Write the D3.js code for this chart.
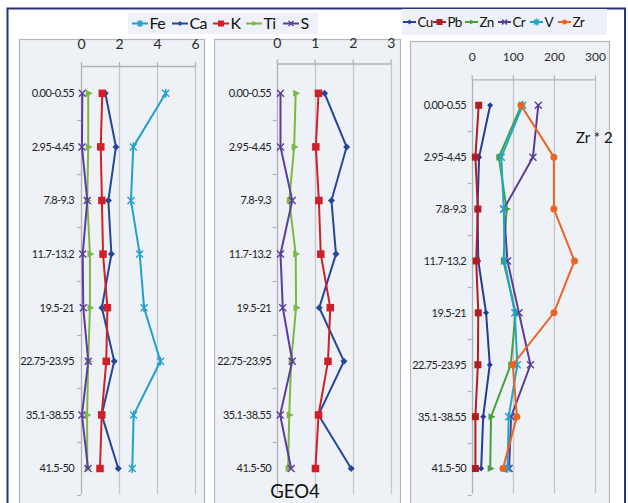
<!DOCTYPE html>
<html><head><meta charset="utf-8">
<script src="https://cdn.jsdelivr.net/npm/d3@7"></script>
<style>html,body{margin:0;padding:0;background:#fff;}svg{display:block;font-family:Lato,"Noto Sans",sans-serif;}</style>
</head><body><svg id="c" width="628" height="503"></svg>
<script>
const categories = ["0.00-0.55","2.95-4.45","7.8-9.3","11.7-13.2","19.5-21","22.75-23.95","35.1-38.55","41.5-50"];
// Panel 1
const ticks1 = [0,2,4,6];
const fe1 = [4.46, 2.75, 2.63, 3.09, 3.32, 4.18, 2.77, 2.70];
const ca1 = [1.28, 1.84, 1.44, 1.60, 1.10, 1.75, 1.09, 1.96];
const k1  = [1.12, 1.04, 1.10, 1.16, 1.39, 1.33, 1.09, 1.00];
const ti1 = [0.38, 0.38, 0.33, 0.47, 0.47, 0.38, 0.32, 0.33];
const s1  = [0.07, 0.05, 0.33, 0.09, 0.12, 0.38, 0.05, 0.37];
// Panel 2
const ticks2 = [0,1,2,3];
const ca2 = [1.26, 1.84, 1.44, 1.56, 1.12, 1.77, 1.10, 1.96];
const k2  = [1.10, 1.03, 1.11, 1.16, 1.41, 1.35, 1.10, 1.02];
const ti2 = [0.50, 0.46, 0.33, 0.50, 0.51, 0.38, 0.33, 0.30];
const s2  = [0.10, 0.10, 0.41, 0.10, 0.16, 0.41, 0.09, 0.38];
// Panel 3
const ticks3 = [0,100,200,300];
const cu3 = [45, 18, 14, 16, 35, 44, 28, 23];
const pb3 = [17, 9, 15, 11, 16, 15, 9, 9];
const zn3 = [121, 66, 85, 77, 107, 95, 47, 45];
const cr3 = [162, 149, 78, 87, 115, 143, 96, 91];
const v3  = [124, 72, 78, 80, 105, 111, 90, 87];
const zr3 = [120, 200, 200, 250, 200, 100, 110, 76];
const legend1 = ["Fe","Ca","K","Ti","S"];
const legend2 = ["Cu","Pb","Zn","Cr","V","Zr"];

const style = {
  Fe:{c:"#22a0cc",m:"ast"}, Ca:{c:"#24479a",m:"diamond"}, K:{c:"#d01f26",m:"square"},
  Ti:{c:"#7bb843",m:"tri"}, S:{c:"#5c3c9c",m:"x"},
  Cu:{c:"#243c98",m:"diamond"}, Pb:{c:"#b01e22",m:"square"}, Zn:{c:"#46a03c",m:"tri"},
  Cr:{c:"#5a3b96",m:"x"}, V:{c:"#22a6c8",m:"ast"}, Zr:{c:"#ec6422",m:"circle"}
};

const svg = d3.select("#c");

function marker(g, type, color, x, y, s) {
  const h = s/2;
  if (type === "square") g.append("rect").attr("x",x-h).attr("y",y-h).attr("width",s).attr("height",s).attr("fill",color);
  else if (type === "diamond") g.append("path").attr("d",`M${x},${y-h}L${x+h},${y}L${x},${y+h}L${x-h},${y}Z`).attr("fill",color);
  else if (type === "tri") g.append("path").attr("d",`M${x-h+1},${y-h}L${x+h+1},${y}L${x-h+1},${y+h}Z`).attr("fill",color);
  else if (type === "circle") g.append("circle").attr("cx",x).attr("cy",y).attr("r",h).attr("fill",color);
  else if (type === "x") g.append("path").attr("d",`M${x-h},${y-h}L${x+h},${y+h}M${x-h},${y+h}L${x+h},${y-h}`).attr("stroke",color).attr("stroke-width",1.4).attr("fill","none");
  else if (type === "ast") g.append("path").attr("d",`M${x-h},${y-h}L${x+h},${y+h}M${x-h},${y+h}L${x+h},${y-h}M${x},${y-h-1}L${x},${y+h+1}`).attr("stroke",color).attr("stroke-width",1.4).attr("fill","none");
}

svg.append("rect").attr("x",7.5).attr("y",8.5).attr("width",617.5).attr("height",520)
  .attr("fill","#fff").attr("stroke","#2a3579").attr("stroke-width",2);

function panel(opt) {
  const g = svg.append("g");
  g.append("rect").attr("x",opt.fx0+0.5).attr("y",opt.fy0+0.5).attr("width",opt.fx1-opt.fx0).attr("height",520)
    .attr("fill","#eef2f7").attr("stroke","#b4b7bd").attr("stroke-width",1.2);
  const x = d3.scaleLinear().domain([opt.ticks[0], opt.ticks[opt.ticks.length-1]]).range([opt.x0, opt.x1]);
  const y = d3.scaleBand().domain(categories).range([opt.yTop, opt.yBot]).paddingInner(0).paddingOuter(0);
  const bw = y.bandwidth();
  const cy = c => y(c) + bw/2;
  g.selectAll(".grid").data(opt.ticks).join("line")
    .attr("x1",d=>Math.round(x(d))+0.5).attr("x2",d=>Math.round(x(d))+0.5)
    .attr("y1",opt.axisY).attr("y2",opt.yBot-1)
    .attr("stroke",d=>d===0?"#aeb1b6":"#c4c6ca").attr("stroke-width",1.3);
  const bounds = categories.map(c=>y(c)).concat([opt.yBot]);
  g.selectAll(".lt").data(bounds.slice(1)).join("line")
    .attr("x1",x(0)-4).attr("x2",x(0)).attr("y1",d=>Math.round(d)+0.5).attr("y2",d=>Math.round(d)+0.5)
    .attr("stroke","#aeb1b6").attr("stroke-width",1.2);
  const ax = g.append("g").attr("transform",`translate(0,${opt.axisY})`)
    .call(d3.axisTop(x).tickValues(opt.ticks).tickFormat(d3.format("d")).tickSize(4).tickSizeOuter(0).tickPadding(opt.tickPad));
  ax.select(".domain").attr("stroke","#aeb1b6").attr("stroke-width",1.3);
  ax.selectAll(".tick line").attr("stroke","#aeb1b6").attr("stroke-width",1.2);
  ax.selectAll(".tick text").attr("fill","#2a2a2a").style("font-size",opt.tickFont+"px").style("font-family","Lato, sans-serif");
  g.selectAll(".rl").data(categories).join("text")
    .attr("x",opt.labelX).attr("y",d=>cy(d)).attr("dy","0.35em").attr("text-anchor","end")
    .attr("fill","#222").style("font-size","11px").style("letter-spacing","-0.6px").text(d=>d);
  opt.series.forEach(([name, vals]) => {
    const st = style[name];
    const pts = vals.map((v,i)=>[x(v), cy(categories[i])]);
    g.append("path").attr("d",d3.line()(pts)).attr("fill","none").attr("stroke",st.c).attr("stroke-width",2);
    pts.forEach(p=>marker(g, st.m, st.c, p[0], p[1], opt.msize[name]||7));
  });
  return {g,x,y};
}

panel({fx0:19, fx1:204, fy0:39, x0:81, x1:195, yTop:66.5, yBot:495.3, axisY:66, ticks:ticks1, tickPad:13, tickFont:14, labelX:74,
  series:[["Fe",fe1],["Ca",ca1],["K",k1],["Ti",ti1],["S",s1]], msize:{Fe:7,Ca:7,K:7.5,Ti:7,S:7}});
panel({fx0:214, fx1:400, fy0:39, x0:276.7, x1:390.7, yTop:66.5, yBot:495.3, axisY:63.5, ticks:ticks2, tickPad:12, tickFont:14, labelX:271,
  series:[["Ca",ca2],["K",k2],["Ti",ti2],["S",s2]], msize:{Ca:7,K:7.5,Ti:7,S:7}});
panel({fx0:410, fx1:609, fy0:41, x0:471.7, x1:595, yTop:79.3, yBot:494.5, axisY:79.3, ticks:ticks3, tickPad:14, tickFont:12, labelX:466,
  series:[["Cu",cu3],["Pb",pb3],["Zn",zn3],["Cr",cr3],["V",v3],["Zr",zr3]], msize:{Cu:6,Pb:7,Zn:7,Cr:7,V:7,Zr:7}});

svg.append("text").attr("x",576).attr("y",143).attr("fill","#111").style("font-size","15px").text("Zr * 2");
svg.append("text").attr("x",295).attr("y",498).attr("text-anchor","middle").attr("fill","#111").style("font-size","18.5px").text("GEO4");

function legend(items, starts, bx, by, bw, bh, lineLen, font, ls) {
  const g = svg.append("g");
  g.append("rect").attr("x",bx).attr("y",by).attr("width",bw).attr("height",bh).attr("fill","#eef1f7");
  const cyL = by + bh/2;
  items.forEach((n,i) => {
    const st = style[n];
    const cx = starts[i];
    g.append("line").attr("x1",cx).attr("x2",cx+lineLen).attr("y1",cyL).attr("y2",cyL).attr("stroke",st.c).attr("stroke-width",2);
    marker(g, st.m, st.c, cx+lineLen/2, cyL, n==="K"||n==="Pb"?6:5);
    g.append("text").attr("x",cx+lineLen+1.5).attr("y",cyL).attr("dy","0.36em").attr("fill","#111")
      .style("font-size",font+"px").style("letter-spacing",ls+"px").text(n);
  });
}
legend(legend1, [132,172,213,246,283], 128, 13, 190, 21, 16, 16, -0.6);
legend(legend2, [403,433,465,498,530,558], 402, 9, 205, 26, 13, 13.5, -0.7);
</script></body></html>
